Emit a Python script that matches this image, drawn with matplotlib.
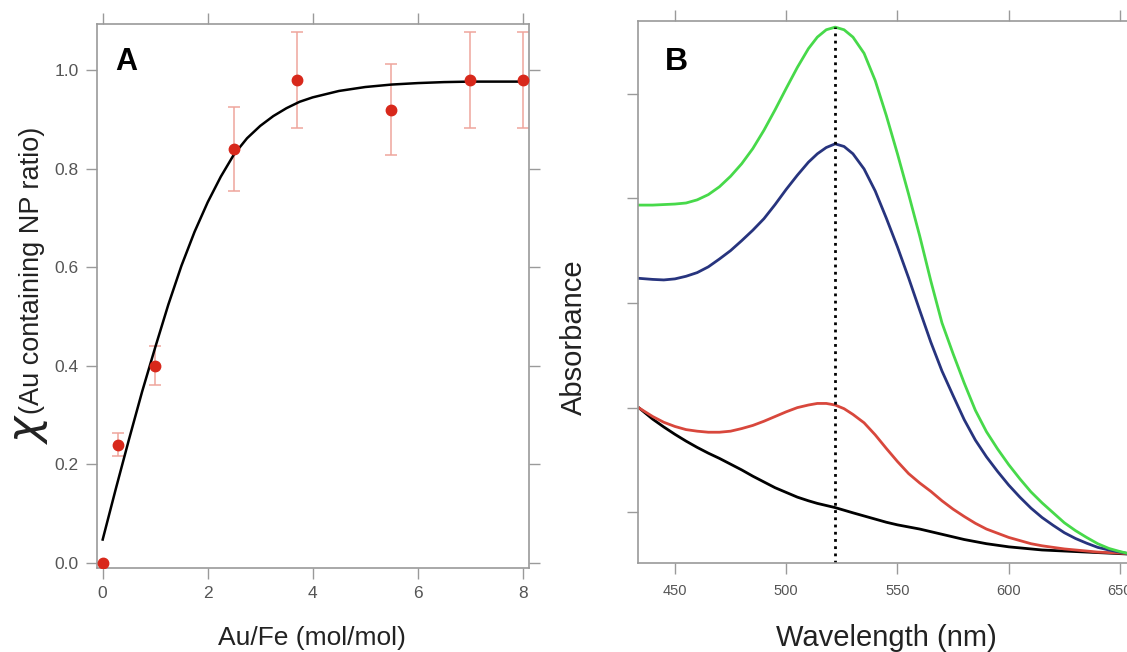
import matplotlib
matplotlib.use("Agg")
import matplotlib.pyplot as plt

plt.rcParams['font.family'] = ['Liberation Sans', 'DejaVu Sans']

# ---------------- Panel A data ----------------
au_fe = [0.0, 0.3, 1.0, 2.5, 3.7, 5.5, 7.0, 8.0]
chi = [0.0, 0.24, 0.40, 0.84, 0.98, 0.92, 0.98, 0.98]
chi_err = [0.0, 0.024, 0.04, 0.085, 0.097, 0.093, 0.098, 0.098]

fit_x = [0.0, 0.25, 0.5, 0.75, 1.0, 1.25, 1.5, 1.75, 2.0, 2.25, 2.5, 2.75,
         3.0, 3.25, 3.5, 3.75, 4.0, 4.5, 5.0, 5.5, 6.0, 6.5, 7.0, 8.0]
fit_y = [0.047, 0.150, 0.250, 0.347, 0.437, 0.524, 0.603, 0.672, 0.732,
         0.784, 0.829, 0.862, 0.887, 0.907, 0.923, 0.936, 0.945, 0.958,
         0.966, 0.971, 0.974, 0.976, 0.977, 0.977]

a_xticks = [0, 2, 4, 6, 8]
a_yticks = [0.0, 0.2, 0.4, 0.6, 0.8, 1.0]

# ---------------- Panel B data ----------------
wavelength = [434, 440, 445, 450, 455, 460, 465, 470, 475, 480, 485, 490, 495,
              500, 505, 510, 514, 518, 522, 526, 530, 535, 540, 545, 550, 555,
              560, 565, 570, 575, 580, 585, 590, 595, 600, 605, 610, 615, 620,
              625, 630, 635, 640, 645, 650, 655]
abs_green = [0.787, 0.787, 0.788, 0.789, 0.791, 0.797, 0.807, 0.822, 0.842,
             0.866, 0.895, 0.930, 0.969, 1.010, 1.050, 1.086, 1.108, 1.122,
             1.127, 1.122, 1.108, 1.077, 1.025, 0.958, 0.885, 0.808, 0.728,
             0.642, 0.562, 0.503, 0.447, 0.395, 0.354, 0.321, 0.291, 0.264,
             0.239, 0.218, 0.199, 0.180, 0.165, 0.152, 0.140, 0.131, 0.125,
             0.120]
abs_blue = [0.647, 0.645, 0.644, 0.646, 0.651, 0.658, 0.669, 0.684, 0.700,
            0.719, 0.739, 0.761, 0.788, 0.817, 0.844, 0.869, 0.885, 0.897,
            0.904, 0.899, 0.885, 0.856, 0.814, 0.762, 0.707, 0.648, 0.586,
            0.525, 0.470, 0.423, 0.377, 0.338, 0.306, 0.278, 0.252, 0.229,
            0.208, 0.190, 0.175, 0.161, 0.150, 0.141, 0.133, 0.128, 0.124,
            0.120]
abs_red = [0.399, 0.383, 0.372, 0.364, 0.358, 0.355, 0.353, 0.353, 0.355,
           0.360, 0.366, 0.374, 0.383, 0.392, 0.400, 0.405, 0.408, 0.408,
           0.405, 0.398, 0.387, 0.371, 0.348, 0.322, 0.297, 0.274, 0.256,
           0.240, 0.222, 0.206, 0.192, 0.179, 0.168, 0.160, 0.152, 0.146,
           0.140, 0.136, 0.133, 0.130, 0.128, 0.126, 0.124, 0.123, 0.122,
           0.120]
abs_black = [0.399, 0.378, 0.363, 0.349, 0.336, 0.324, 0.313, 0.303, 0.292,
             0.281, 0.269, 0.258, 0.247, 0.238, 0.229, 0.222, 0.217, 0.213,
             0.209, 0.204, 0.199, 0.193, 0.187, 0.181, 0.176, 0.172, 0.168,
             0.163, 0.158, 0.153, 0.148, 0.144, 0.140, 0.137, 0.134, 0.132,
             0.130, 0.128, 0.127, 0.126, 0.125, 0.124, 0.123, 0.122, 0.121,
             0.120]
peak_wl = 522
peak_top = 1.127

b_xticks = [450, 500, 550, 600, 650]
b_yticks = [0.2, 0.4, 0.6, 0.8, 1.0]

W, H = 1127, 652
fig = plt.figure(figsize=(W / 100, H / 100), dpi=100)

def px_axes(l, t, r, b):
    return fig.add_axes([l / W, 1 - b / H, (r - l) / W, (b - t) / H])

spine_col = '#9a9a9a'
tick_col = '#555555'

# ---------------- Panel A ----------------
axA = px_axes(96.7, 24, 529.3, 568.3)
axA.errorbar(au_fe, chi, yerr=chi_err, fmt='none', ecolor='#efa59c',
             elinewidth=1.1, capsize=4, capthick=1.1, zorder=2)
axA.plot(fit_x, fit_y, color='black', lw=1.8, zorder=3,
         solid_joinstyle='round')
axA.plot(au_fe, chi, 'o', color='#d8281b', ms=7.5, zorder=4)
axA.set_xlim(-0.114, 8.126)
axA.set_ylim(-0.0114, 1.094)
axA.set_xticks(a_xticks)
axA.set_yticks(a_yticks)
axA.set_xticklabels([str(v) for v in a_xticks])
axA.set_yticklabels([f'{v:.1f}' for v in a_yticks])
axA.tick_params(direction='out', length=8, width=1, color=spine_col,
                labelcolor=tick_col, labelsize=12.5, top=True, right=True,
                pad=5)
for s in axA.spines.values():
    s.set_color(spine_col)
    s.set_linewidth(1.2)
fig.text(115 / W, 1 - 70 / H, 'A', ha='left', va='baseline', fontsize=22,
         fontweight='bold')
fig.text(311.5 / W, 1 - 638 / H, 'Au/Fe (mol/mol)', ha='center', va='center',
         fontsize=19, color='#222222')
fig.text(30 / W, 1 - 428 / H, r'$\chi$', rotation=90, ha='center',
         va='center', fontsize=32, color='#222222')
fig.text(32 / W, 1 - 270 / H, '(Au containing NP ratio)', rotation=90,
         ha='center', va='center', fontsize=19.5, color='#222222')

# ---------------- Panel B ----------------
axB = px_axes(638, 20.5, 1140, 562.7)
axB.plot(wavelength, abs_black, color='black', lw=2, solid_joinstyle='round')
axB.plot(wavelength, abs_red, color='#d8473c', lw=2, solid_joinstyle='round')
axB.plot(wavelength, abs_blue, color='#27347e', lw=2, solid_joinstyle='round')
axB.plot(wavelength, abs_green, color='#47d94a', lw=2, solid_joinstyle='round')
axB.plot([peak_wl, peak_wl], [0.1037, peak_top], color='black', lw=2,
         linestyle=(0, (1, 1.6)))
axB.set_xlim(433.4, 659)
axB.set_ylim(0.1037, 1.1397)
axB.set_xticks(b_xticks)
axB.set_yticks(b_yticks)
axB.set_yticklabels([])
axB.tick_params(direction='out', length=8, width=1, color=spine_col,
                labelcolor=tick_col, labelsize=10.5, top=True, pad=7)
for s in axB.spines.values():
    s.set_color(spine_col)
    s.set_linewidth(1.2)
fig.text(665 / W, 1 - 70 / H, 'B', ha='left', va='baseline', fontsize=23,
         fontweight='bold')
fig.text(886.5 / W, 1 - 638 / H, 'Wavelength (nm)', ha='center', va='center',
         fontsize=21, color='#222222')
fig.text(574 / W, 1 - 337 / H, 'Absorbance', rotation=90, ha='center',
         va='center', fontsize=21, color='#222222')

fig.savefig('out.png', dpi=100)
